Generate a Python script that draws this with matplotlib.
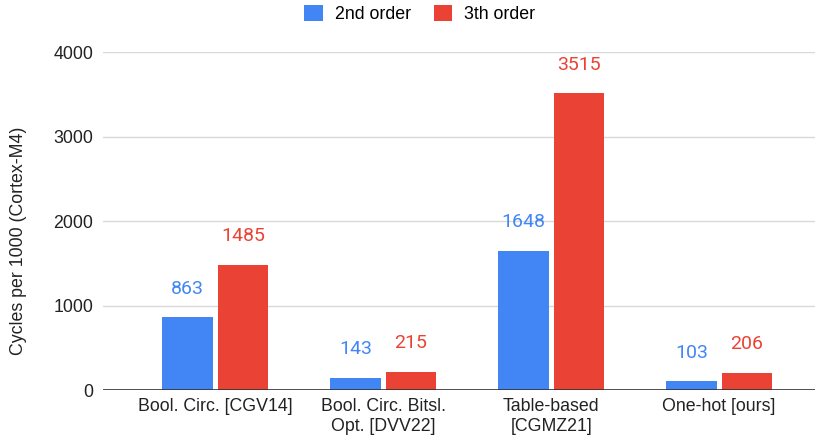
import numpy as np
import matplotlib.pyplot as plt

# data
categories = ["Bool. Circ. [CGV14]", "Bool. Circ. Bitsl.\nOpt. [DVV22]",
              "Table-based\n[CGMZ21]", "One-hot [ours]"]
second_order = [863, 143, 1648, 103]
third_order = [1485, 215, 3515, 206]
series_names = ["2nd order", "3th order"]

BLUE = "#4285F4"
RED = "#EA4335"

plt.rcParams["font.family"] = ["Liberation Sans", "DejaVu Sans"]

fig = plt.figure(figsize=(8.23, 4.41), dpi=100)
ax = fig.add_axes([0.125, 0.1156, 0.865, 0.7664])

x = np.arange(len(categories))
w = 0.30
off = 0.165

b1 = ax.bar(x - off, second_order, w, color=BLUE, label=series_names[0], zorder=3)
b2 = ax.bar(x + off, third_order, w, color=RED, label=series_names[1], zorder=3)

for bars, vals, c in [(b1, second_order, BLUE), (b2, third_order, RED)]:
    for b, v in zip(bars, vals):
        ax.annotate(str(v), (b.get_x() + b.get_width() / 2, v),
                    xytext=(0, 14), textcoords="offset points",
                    ha="center", va="bottom", color=c, fontsize=14,
                    family=["Roboto", "DejaVu Sans"])

ax.set_ylim(0, 4000)
ax.set_xlim(-0.67, 3.57)
ax.set_yticks([0, 1000, 2000, 3000, 4000])
ax.set_xticks(x)
ax.set_xticklabels(categories)
ax.tick_params(axis="both", length=0, labelsize=12.8, labelcolor="#222222")
ax.tick_params(axis="y", pad=7)
ax.tick_params(axis="x", pad=6)

ax.grid(axis="y", color="#d9d9d9", lw=1, zorder=0)
ax.axhline(0, color="#333333", lw=1.2, zorder=4)
for s in ax.spines.values():
    s.set_visible(False)

ax.set_ylabel("Cycles per 1000 (Cortex-M4)", fontsize=12.8, color="#222222")
ax.yaxis.set_label_coords(-0.106, 0.44)

fig.legend(loc="upper center", bbox_to_anchor=(0.51, 1.025), ncol=2, frameon=False,
           fontsize=12.8, handlelength=1.05, handleheight=1.05, columnspacing=1.3,
           handletextpad=0.65)

fig.savefig("out.png", dpi=100)
